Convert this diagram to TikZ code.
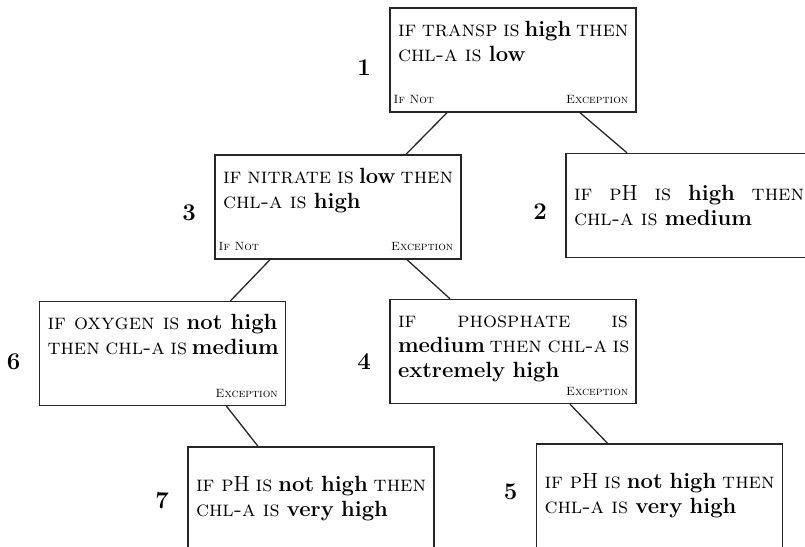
\documentclass[tikz,border=0pt]{standalone}
\usetikzlibrary{positioning}

\newcommand{\fullline}[1]{\makebox[115pt][s]{\spaceskip=0pt\xspaceskip=0pt\relax #1}}

\begin{document}
\begin{tikzpicture}[x=0.5pt, y=-0.5pt, node distance=9pt] % Styles
\tikzstyle{rule}=[draw=black!85, line width=0.7pt, align=left, text width=115pt, inner xsep=4pt, inner ysep=4pt, text height=10pt, text depth=34pt, font=\fontsize{11}{12.5}\selectfont]
\tikzstyle{leaf}=[draw=black!85, line width=0.7pt, align=left, text width=115pt, inner xsep=4pt, minimum height=52pt, font=\fontsize{11}{12.5}\selectfont]
\tikzstyle{num}=[inner sep=0pt, font=\fontsize{12}{14}\selectfont\bfseries]
\tikzstyle{flag}=[inner sep=0pt, font=\fontsize{6}{7}\selectfont\scshape]
\tikzstyle{link}=[draw=black!85, line width=0.65pt]
\clip (0,0) rectangle (805,547);
% Nodes
\node[rule] (r1) at (513,60) {\fullline{\textsc{if transp is} \textbf{high} \textsc{then}}\\ \textsc{chl-a is} \textbf{low}};
\node[rule] (r3) at (338,207) {\fullline{\textsc{if nitrate is} \textbf{low} \textsc{then}}\\ \textsc{chl-a is} \textbf{high}};
\node[leaf] (r2) at (689,205.5) {\fullline{\textsc{if} \textsc{p}H \textsc{is} \textbf{high} \textsc{then}}\\ \textsc{chl-a is} \textbf{medium}};
\node[rule] (r6) at (162.5,353.5) {\fullline{\textsc{if oxygen is} \textbf{not high}}\\ \fullline{\textsc{then chl-a is} \textbf{medium}}};
\node[rule] (r4) at (513,351.5) {\fullline{\textsc{if} \textsc{phosphate} \textsc{is}}\\ \fullline{\textbf{medium} \textsc{then chl-a is}}\\ \textbf{extremely high}};
\node[leaf] (r7) at (311,499) {\fullline{\textsc{if p}H \textsc{is} \textbf{not high} \textsc{then}}\\ \textsc{chl-a is} \textbf{very high}};
\node[leaf] (r5) at (659.5,496) {\fullline{\textsc{if p}H \textsc{is} \textbf{not high} \textsc{then}}\\ \textsc{chl-a is} \textbf{very high}};
% Numbers
\node[num, left=of r1, yshift=-4pt] (n1) {1};
\node[num, left=of r3, yshift=-3pt] (n3) {3};
\node[num, left=of r2, yshift=-3pt] (n2) {2};
\node[num, left=of r6, yshift=-4pt] (n6) {6};
\node[num, left=of r4, yshift=-5pt] (n4) {4};
\node[num, left=of r7, yshift=-1pt] (n7) {7};
\node[num, left=of r5, yshift=2pt] (n5) {5};
% Flags
\node[flag, anchor=base west] (r1no) at ([xshift=2pt, yshift=4.5pt]r1.south west) {If Not};
\node[flag, anchor=base east] (r1ex) at ([xshift=-4pt, yshift=4.5pt]r1.south east) {Exception};
\node[flag, anchor=base west] (r3no) at ([xshift=2pt, yshift=4.5pt]r3.south west) {If Not};
\node[flag, anchor=base east] (r3ex) at ([xshift=-4pt, yshift=4.5pt]r3.south east) {Exception};
\node[flag, anchor=base east] (r6ex) at ([xshift=-4pt, yshift=4.5pt]r6.south east) {Exception};
\node[flag, anchor=base east] (r4ex) at ([xshift=-4pt, yshift=4.5pt]r4.south east) {Exception};
% Connections
\draw[link] ([xshift=-33pt]r1.south) -- ([xshift=34pt]r3.north);
\draw[link] ([xshift=33.5pt]r1.south) -- ([xshift=-31pt]r2.north);
\draw[link] ([xshift=-34pt]r3.south) -- ([xshift=34pt]r6.north);
\draw[link] ([xshift=34.5pt]r3.south) -- ([xshift=-31.5pt]r4.north);
\draw[link] ([xshift=32pt]r6.south) -- ([xshift=-26.5pt]r7.north);
\draw[link] ([xshift=28.5pt]r4.south) -- ([xshift=-26pt]r5.north);
\end{tikzpicture}
\end{document}
